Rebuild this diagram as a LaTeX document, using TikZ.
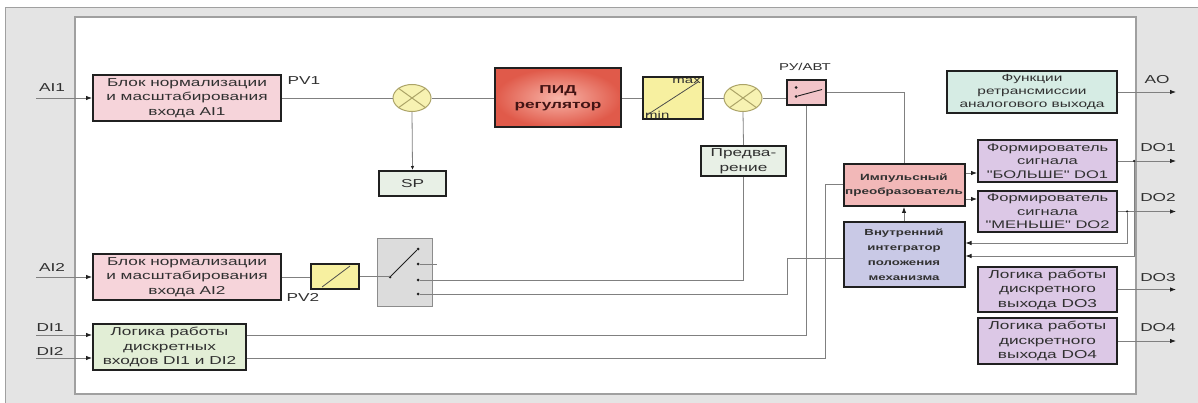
\documentclass[tikz,border=0pt]{standalone}
\usepackage{fontspec}
\setmainfont{Liberation Sans}
\newfontfamily\wf[FakeStretch=1.5]{Liberation Sans}
\usetikzlibrary{shapes.geometric,arrows.meta,calc}
\definecolor{frameg}{HTML}{E4E4E4}
\definecolor{frameline}{HTML}{A0A0A0}
\definecolor{pinkA}{HTML}{F6D4DA}
\definecolor{greenSP}{HTML}{E8F0E6}
\definecolor{yel}{HTML}{F7F0A0}
\definecolor{sumy}{HTML}{F7F2B2}
\definecolor{sumline}{HTML}{ACA468}
\definecolor{pidout}{HTML}{E05A4A}
\definecolor{pidin}{HTML}{F8B4A8}
\definecolor{rupink}{HTML}{F2C4C8}
\definecolor{swgray}{HTML}{DCDCDC}
\definecolor{swline}{HTML}{8C8C8C}
\definecolor{digreen}{HTML}{E2EED6}
\definecolor{imppink}{HTML}{F2B8B8}
\definecolor{intlav}{HTML}{C9C9E6}
\definecolor{aoteal}{HTML}{D6ECE4}
\definecolor{dolav}{HTML}{DCC8E6}
\definecolor{wirec}{HTML}{808080}
\definecolor{txt}{HTML}{303030}
\definecolor{boxc}{HTML}{202020}
\begin{document}
\begin{tikzpicture}[x=1pt,y=-1pt,
  blk/.style={draw=boxc,line width=2pt,inner sep=0pt,align=center,text=txt},
  f11/.style={font=\wf\fontsize{11.5}{14.5}\selectfont},
  f10/.style={font=\wf\fontsize{10}{13.5}\selectfont},
  fb9/.style={font=\wf\bfseries\fontsize{9}{14}\selectfont},
  wire/.style={draw=wirec,line width=0.8pt},
  arr/.style={wire,-{Latex[length=6pt,width=4.5pt,color=boxc]}},
  lbl/.style={font=\wf\fontsize{11.5}{13}\selectfont,text=txt,inner sep=0pt},
  sumnode/.style={ellipse,draw=sumline,fill=sumy,minimum width=38pt,minimum height=27pt,inner sep=0pt,line width=1pt},
  dot/.style={circle,fill=boxc,inner sep=0pt,minimum size=3pt}]
\useasboundingbox (0,0) rectangle (1198,403);
% frame
\fill[frameg] (5,8) rectangle (1198,403);
\draw[frameline,line width=1pt] (1198,8) -- (5,8) -- (5,403);
\fill[white] (75,17) rectangle (1136,394);
\draw[frameline,line width=1.2pt] (75,17) rectangle (1136,394);

% left blocks
\node[blk,f11,fill=pinkA,minimum width=188pt,minimum height=46pt] (ai1) at (187,98) {Блок нормализации\\и масштабирования\\входа AI1};
\node[blk,f11,fill=pinkA,minimum width=188pt,minimum height=46pt] (ai2) at (187,277) {Блок нормализации\\и масштабирования\\входа AI2};
\node[blk,f11,fill=digreen,minimum width=153pt,minimum height=46pt] (di) at (169.5,347) {Логика работы\\дискретных\\входов DI1 и DI2};

% top chain
\node[sumnode] (s1) at (412,98) {};
\node[blk,f11,fill=greenSP,minimum width=67pt,minimum height=25pt] (sp) at (412.5,183.5) {SP};
\node[blk,font=\wf\bfseries\fontsize{11.5}{15}\selectfont,text=txt!70!red!60!black,inner color=pidin,outer color=pidout,minimum width=126pt,minimum height=59pt] (pid) at (558,98) {ПИД\\регулятор};
\node[blk,fill=yel,minimum width=60pt,minimum height=42pt] (lim) at (673,98) {};
\node[sumnode] (s2) at (743,98) {};
\node[blk,f11,fill=greenSP,minimum width=85pt,minimum height=30pt] (pred) at (743.5,161) {Предва-\\рение};
\node[blk,fill=rupink,minimum width=39pt,minimum height=25pt] (ru) at (806.5,92.5) {};
\node[lbl,font=\wf\fontsize{10}{12}\selectfont] (rulbl) at (805,67) {РУ/АВТ};

% sum crosses
\draw[sumline,line width=1pt] (s1.north west) -- (s1.south east) (s1.north east) -- (s1.south west);
\draw[sumline,line width=1pt] (s2.north west) -- (s2.south east) (s2.north east) -- (s2.south west);

% limiter inside
\draw[boxc!80,line width=0.8pt] ($(lim.south west)+(5,-5)$) -- ($(lim.north east)+(-6,6)$);
\node[lbl,font=\wf\fontsize{10}{12}\selectfont,anchor=north east] (mx) at ($(lim.north east)+(-3,2)$) {max};
\node[lbl,font=\wf\fontsize{10}{12}\selectfont,anchor=south west] (mn) at ($(lim.south west)+(3,-1)$) {min};

% RU switch inside
\node[dot] (rd1) at ($(ru.west)+(10,-5)$) {};
\node[dot] (rd2) at ($(ru.west)+(10,4)$) {};
\draw[boxc,line width=0.9pt] (rd2) -- ($(ru.east)+(-5,-3)$);

% AI2 path
\node[blk,fill=yel,minimum width=48pt,minimum height=25pt] (lin) at (335,276.5) {};
\draw[boxc!80,line width=0.8pt] ($(lin.south west)+(12,-3)$) -- ($(lin.north east)+(-10,3)$);
\node[draw=swline,fill=swgray,line width=1.5pt,minimum width=55pt,minimum height=68pt,inner sep=0pt] (sw) at (405,272.5) {};
\node[dot] (pv) at ($(sw.center)+(-15,4.5)$) {};
\node[dot] (c1) at ($(sw.center)+(13,-23.5)$) {};
\node[dot] (c2) at ($(sw.center)+(13,-8.5)$) {};
\node[dot] (c3) at ($(sw.center)+(13,7.5)$) {};
\node[dot] (c4) at ($(sw.center)+(13,21.5)$) {};
\draw[boxc,line width=1pt] (pv) -- (c1);

% right blocks
\node[blk,fill=imppink,fb9,minimum width=121pt,minimum height=42pt] (imp) at (904,185) {Импульсный\\преобразователь};
\node[blk,fill=intlav,minimum width=121pt,minimum height=65pt,font=\wf\bfseries\fontsize{8.8}{15}\selectfont] (int) at (904,254.5) {Внутренний\\интегратор\\положения\\механизма};
\node[blk,fill=aoteal,minimum width=170pt,minimum height=42pt,font=\wf\fontsize{10.3}{13}\selectfont] (ao) at (1032,92) {Функции\\ретрансмиссии\\аналогового выхода};
\node[blk,fill=dolav,minimum width=139pt,minimum height=42pt,font=\wf\fontsize{11}{13.5}\selectfont] (do1) at (1047.5,161) {Формирователь\\сигнала\\"БОЛЬШЕ" DO1};
\node[blk,fill=dolav,minimum width=139pt,minimum height=41pt,font=\wf\fontsize{11}{13.5}\selectfont] (do2) at (1047.5,211.5) {Формирователь\\сигнала\\"МЕНЬШЕ" DO2};
\node[blk,f11,fill=dolav,minimum width=139pt,minimum height=45pt] (do3) at (1047.5,289.5) {Логика работы\\дискретного\\выхода DO3};
\node[blk,f11,fill=dolav,minimum width=139pt,minimum height=46pt] (do4) at (1047.5,341) {Логика работы\\дискретного\\выхода DO4};

% input labels and arrows
\coordinate (inx) at (36,0);
\node[lbl] (lai1) at (52,88) {AI1};
\node[lbl] (lai2) at (52,267) {AI2};
\node[lbl] (ldi1) at (50,328) {DI1};
\node[lbl] (ldi2) at (50,351) {DI2};
\draw[arr] (ai1.west -| inx) -- (ai1.west);
\draw[arr] (ai2.west -| inx) -- (ai2.west);
\coordinate (di1) at ($(di.west)+(0,-12)$);
\coordinate (di2) at ($(di.west)+(0,11)$);
\draw[arr] (di1 -| inx) -- (di1);
\draw[arr] (di2 -| inx) -- (di2);
\node[lbl] (lpv1) at (304,81) {PV1};
\node[lbl] (lpv2) at (303,297) {PV2};

% top wiring
\draw[wire] (ai1.east) -- (s1.west);
\draw[wire,-{Latex[length=4pt,width=3.5pt,color=boxc]}] (s1.south) -- (sp.north);
\draw[wire] (s1.east) -- (pid.west);
\draw[wire] (pid.east) -- (lim.west);
\draw[wire] (lim.east) -- (s2.west);
\draw[wire] (s2.east) -- (s2.east -| ru.west);
\draw[wire] (s2.south) -- (pred.north);
\draw[wire] (ru.east) -| (imp.north);

% lower wiring
\draw[wire] (ai2.east) -- (ai2.east -| lin.west);
\draw[wire] (lin.east) -- (lin.east -| pv);
\draw[wire] (c2) -- ++(19,0);
\draw[wire] (pred.south) |- (c3);
\coordinate (intw) at ($(int.west)+(0,3.5)$);
\coordinate (k1) at ($(int.west)+(-55,3.5)$);
\draw[wire] (c4) -| (k1) -- (intw);
\coordinate (de1) at ($(di.east)+(0,-12)$);
\coordinate (de2) at ($(di.east)+(0,11)$);
\draw[wire] (de1) -| (ru.south);
\coordinate (impw) at ($(imp.west)+(0,-1)$);
\coordinate (k2) at ($(imp.west)+(-17,-1)$);
\draw[wire] (de2) -| (k2) -- (impw);

% impulse / integrator
\draw[arr] (int.north) -- (imp.south);
\coordinate (i1) at ($(imp.east)+(0,-12)$);
\coordinate (i2) at ($(imp.east)+(0,14)$);
\draw[arr] (i1) -- (i1 -| do1.west);
\draw[arr] (i2) -- (i2 -| do2.west);

% outputs
\coordinate (outx) at (1176,0);
\coordinate (jx1) at (1134,0);
\coordinate (jx2) at (1127,0);
\draw[arr] (ao.east) -- (ao.east -| outx);
\draw[arr] (do1.east) -- (do1.east -| outx);
\draw[arr] (do2.east) -- (do2.east -| outx);
\draw[arr] (do3.east) -- (do3.east -| outx);
\draw[arr] (do4.east) -- (do4.east -| outx);
\node[dot,minimum size=2.5pt] (j1) at (do1.east -| jx1) {};
\node[dot,minimum size=2.5pt] (j2) at (do2.east -| jx2) {};
\coordinate (fb1) at ($(int.east)+(0,1.5)$);
\coordinate (fb2) at ($(int.east)+(0,-11.5)$);
\draw[arr] (j1) |- (fb1);
\draw[arr] (j2) |- (fb2);
\node[lbl] (lao) at (1157,80) {AO};
\node[lbl] (ldo1) at (1158,148) {DO1};
\node[lbl] (ldo2) at (1158,198) {DO2};
\node[lbl] (ldo3) at (1158,278) {DO3};
\node[lbl] (ldo4) at (1158,328) {DO4};
\end{tikzpicture}
\end{document}
